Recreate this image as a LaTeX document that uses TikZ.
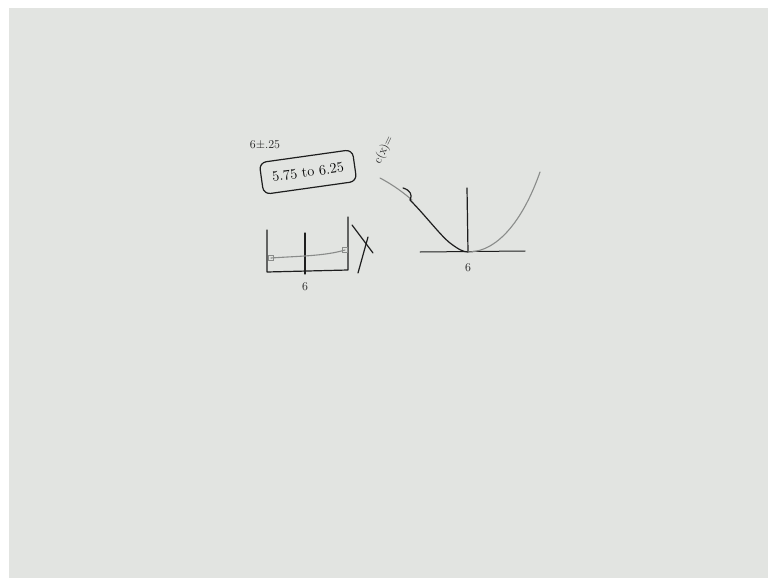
\documentclass[tikz,border=0pt]{standalone}
\usepackage{xcolor}
\usepackage{tikz}
\usetikzlibrary{positioning,calc}
\definecolor{board}{HTML}{E2E4E1}
\definecolor{ink}{HTML}{1E1E1E}
\definecolor{pale}{HTML}{8A8C8A}
\tikzset{
  pen/.style={draw=ink,line width=1.2pt,line cap=round,line join=round},
  faint/.style={draw=pale,line width=1.1pt,line cap=round},
  hand/.style={text=ink,inner sep=1pt},
  tolbox/.style={pen,rounded corners=7pt,minimum width=94pt,minimum height=32pt,align=center},
}

\begin{document}
\begin{tikzpicture}[x=1pt,y=-1pt]
\useasboundingbox (0,0) rectangle (768,578);
\fill[white] (0,0) rectangle (768,578);
\fill[board] (9,8) rectangle (768,578);

% tolerance note
\node[hand,font=\large] (tol) at (265,145) {6$\pm$.25};
\node[tolbox,rotate=8,font=\Large] (range) at (308,172) {5.75 to 6.25};

% bracket sketch
\coordinate (bl) at (267,272);
\coordinate (br) at (348,270);
\draw[pen] (267,230) -- (bl) -- (br) -- (348,217);
\draw[pen] (305,233) -- (305,274);
\draw[faint] (271,258) .. controls (300,256) and (325,256) .. (345,250);
\draw[faint,line width=0.8pt] (268,255) rectangle (273,260);
\draw[faint,line width=0.8pt] (342,247) rectangle (347,252);
\node[hand,font=\large] (mid) at (305,287) {6};
\draw[pen] (352,225) -- (373,253);
\draw[pen] (368,237) -- (358,273);

% loss curve
\coordinate (vtx) at (468,252);
\draw[pen,line width=1pt] (420,252) -- (525,251);
\draw[pen] (467,188) -- (vtx);
\draw[faint] (380,178) .. controls (395,186) and (405,194) .. (412,200);
\draw[pen] (403,188) .. controls (410,190) and (413,195) .. (410,200)
  .. controls (425,215) and (440,235) .. (450,243)
  .. controls (458,249) and (463,252) .. (vtx);
\draw[faint] (vtx) .. controls (500,252) and (525,215) .. (540,172);
\node[hand,font=\large] (top) at (468,268) {6};
\node[hand,rotate=64,font=\large] (cost) at (384,150) {c(x)=};
\end{tikzpicture}
\end{document}
